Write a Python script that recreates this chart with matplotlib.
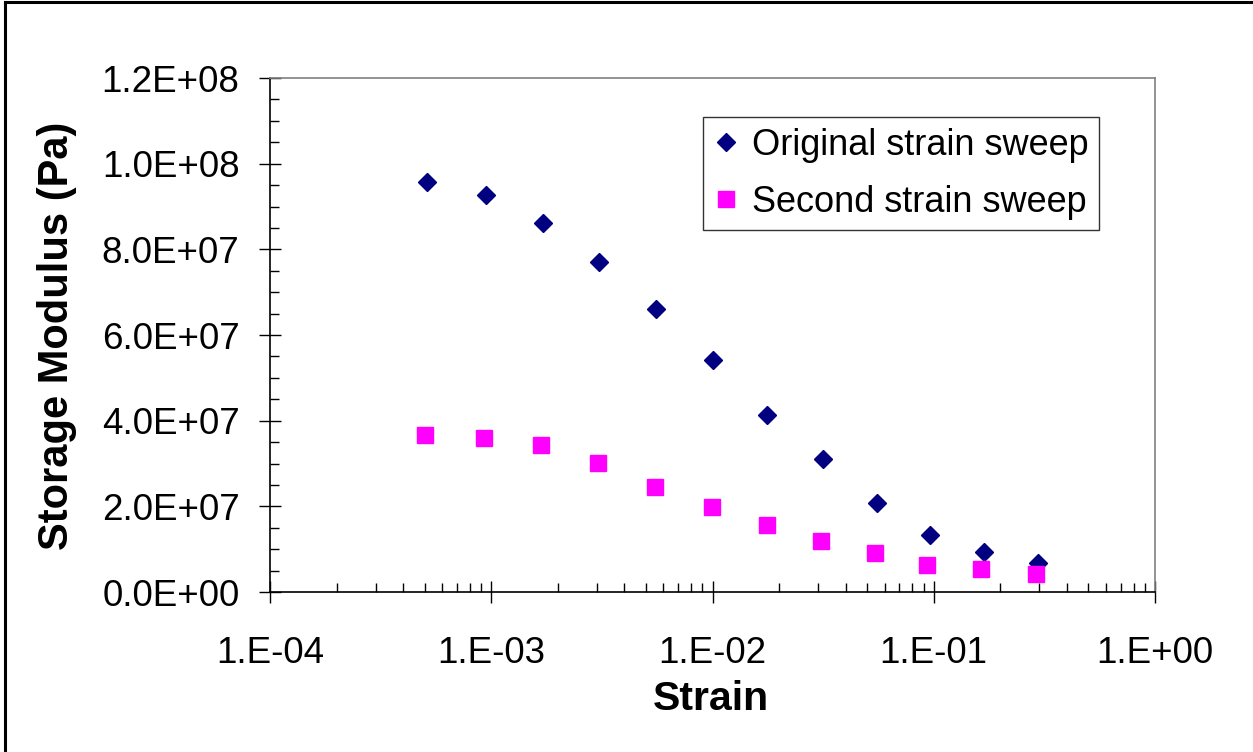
import matplotlib
matplotlib.use("Agg")
import matplotlib.pyplot as plt
from matplotlib.ticker import LogLocator, MultipleLocator, FuncFormatter, NullFormatter
from matplotlib.lines import Line2D
import math

plt.rcParams['font.family'] = ['Liberation Sans', 'DejaVu Sans']

strain = [5.1e-4, 9.5e-4, 1.72e-3, 3.08e-3, 5.58e-3, 1.01e-2, 1.77e-2, 3.15e-2, 5.52e-2, 9.6e-2, 0.168, 0.296]
strain2 = [5.0e-4, 9.3e-4, 1.68e-3, 3.05e-3, 5.5e-3, 9.9e-3, 1.77e-2, 3.1e-2, 5.4e-2, 9.3e-2, 0.163, 0.29]
original = [95.7e6, 92.7e6, 86.2e6, 77.0e6, 66.1e6, 54.2e6, 41.3e6, 31.1e6, 20.8e6, 13.3e6, 9.3e6, 6.8e6]
second = [36.7e6, 36.0e6, 34.3e6, 30.1e6, 24.5e6, 19.8e6, 15.6e6, 11.9e6, 9.1e6, 6.3e6, 5.4e6, 4.2e6]
series_names = ["Original strain sweep", "Second strain sweep"]

fig = plt.figure(figsize=(12.53, 7.52), dpi=100)
ax = fig.add_axes([270/1253, 1-592/752, 885/1253, 514/752])

ax.plot(strain, original, linestyle='none', marker='D', ms=9.2, color='#000080',
        mec='#000080', label=series_names[0], clip_on=False)
ax.plot(strain2, second, linestyle='none', marker='s', ms=11, color='#FF00FF',
        mec='#FF00FF', label=series_names[1], clip_on=False)

ax.set_xscale('log')
ax.set_xlim(1e-4, 1.0)
ax.set_ylim(0, 1.2e8)

ax.xaxis.set_major_locator(LogLocator(base=10, numticks=10))
ax.xaxis.set_minor_locator(LogLocator(base=10, subs=range(2, 10), numticks=100))
ax.xaxis.set_minor_formatter(NullFormatter())
ax.xaxis.set_major_formatter(FuncFormatter(lambda v, p: "1.E{:+03d}".format(int(round(math.log10(v))))))
ax.yaxis.set_major_locator(MultipleLocator(2e7))
ax.yaxis.set_minor_locator(MultipleLocator(5e6))
ax.yaxis.set_major_formatter(FuncFormatter(lambda v, p: "{:.1E}".format(v)))

ax.tick_params(which='major', direction='inout', length=16, width=1.0, color='black', labelsize=26.5)
ax.tick_params(which='minor', direction='in', length=6.5, width=1.0, color='black')
ax.tick_params(axis='x', which='major', pad=24)
ax.tick_params(axis='y', which='major', pad=14)
ax.tick_params(top=False, right=False, which='both')

for s in ['left', 'bottom']:
    ax.spines[s].set_color('black')
    ax.spines[s].set_linewidth(1.2)
for s in ['top', 'right']:
    ax.spines[s].set_color('#808080')
    ax.spines[s].set_linewidth(1.2)

leg = ax.legend(loc='upper left', bbox_to_anchor=((703-270)/885, (592-117)/514),
                borderaxespad=0, frameon=True, fancybox=False, fontsize=26,
                borderpad=0.3, labelspacing=0.6, handlelength=0.7, handletextpad=0.35,
                numpoints=1)
leg.get_frame().set_edgecolor('black')
leg.get_frame().set_linewidth(1.0)

fig.text(57/1253, 1-336/752, "Storage Modulus (Pa)", rotation=90, ha='center', va='center',
         fontsize=30, fontweight='bold')
fig.text(711/1253, 1-710/752, "Strain", ha='center', va='baseline', fontsize=29.5, fontweight='bold')

# figure border (left and top visible)
fig.add_artist(Line2D([5/1253, 5/1253], [0, 1-2/752], color='black', lw=2.2, transform=fig.transFigure))
fig.add_artist(Line2D([5/1253, 1], [1-2/752, 1-2/752], color='black', lw=2.2, transform=fig.transFigure))

fig.savefig("out.png", dpi=100)
